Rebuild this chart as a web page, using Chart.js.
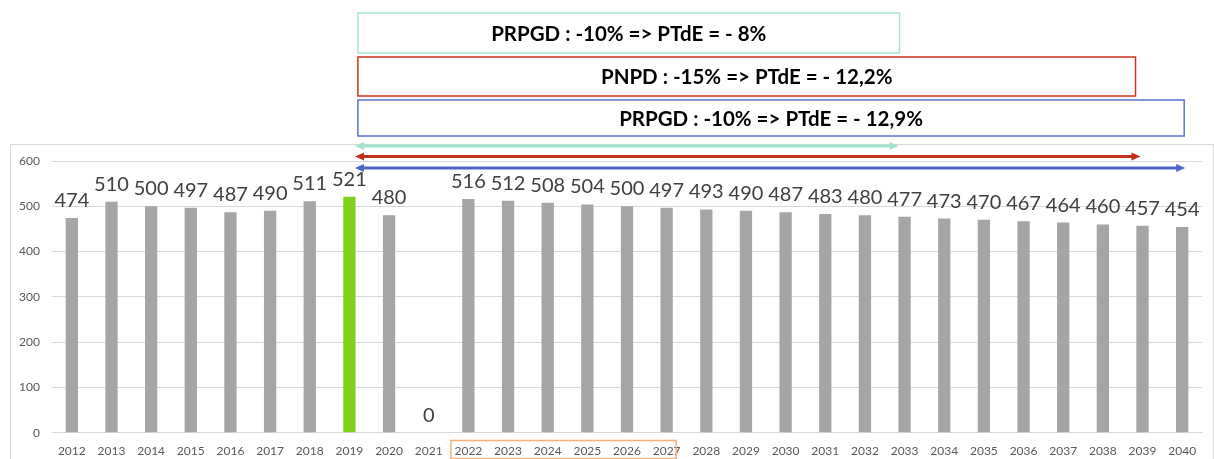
<!DOCTYPE html>
<html><head><meta charset="utf-8">
<script src="https://cdn.jsdelivr.net/npm/chart.js@4/dist/chart.umd.min.js"></script>
<style>html,body{margin:0;padding:0;background:#fff}#wrap{width:1214px;height:459px;position:relative}</style>
</head><body><div id="wrap"><canvas id="c" width="1214" height="459"></canvas></div>
<script>
const years = ['2012','2013','2014','2015','2016','2017','2018','2019','2020','2021','2022','2023','2024','2025','2026','2027','2028','2029','2030','2031','2032','2033','2034','2035','2036','2037','2038','2039','2040'];
const values = [474,510,500,497,487,490,511,521,480,0,516,512,508,504,500,497,493,490,487,483,480,477,473,470,467,464,460,457,454];
const highlightYear = '2019';
const yTicks = [0,100,200,300,400,500,600];
// annotations: label, start category, end category, colour of box, colour of arrow
const spanLabels = ['PRPGD : -10% => PTdE = - 8%','PNPD : -15% => PTdE = - 12,2%','PRPGD : -10% => PTdE = - 12,9%'];
const spanStart = ['2019','2019','2019'];
const spanEnd = ['2033','2039','2040'];
const boxColors = ['#a9e5d6','#d2321c','#5873cc'];
const arrowColors = ['#a0e2cf','#c4301c','#4c66c9'];
const markedYears = ['2022','2027'];

const barColors = years.map(y => y === highlightYear ? '#7ed11c' : '#a5a5a5');

const BOX_END_OFF = [-5,-7,2];
const ARROW_END_OFF = [-6,-2,3];
const BOX_Y = [[13,53],[57,96],[100,136]];
const ARROW_Y = [146,156.5,168];

function arrow(ctx, x1, x2, y, color){
  ctx.save();
  ctx.strokeStyle = color; ctx.fillStyle = color; ctx.lineWidth = 3;
  const h = 9, w = 4;
  ctx.beginPath(); ctx.moveTo(x1 + h - 1, y); ctx.lineTo(x2 - h + 1, y); ctx.stroke();
  ctx.beginPath(); ctx.moveTo(x1, y); ctx.lineTo(x1 + h, y - w); ctx.lineTo(x1 + h, y + w); ctx.closePath(); ctx.fill();
  ctx.beginPath(); ctx.moveTo(x2, y); ctx.lineTo(x2 - h, y - w); ctx.lineTo(x2 - h, y + w); ctx.closePath(); ctx.fill();
  ctx.restore();
}

const overlay = {
  id: 'overlay',
  beforeDraw(chart){
    const ctx = chart.ctx;
    ctx.save();
    ctx.strokeStyle = '#d9d9d9'; ctx.lineWidth = 1;
    ctx.strokeRect(10.5, 144.5, 1203, 330);
    ctx.restore();
  },
  afterDatasetsDraw(chart){
    const ctx = chart.ctx;
    const xs = chart.scales.x;
    const meta = chart.getDatasetMeta(0);
    ctx.save();
    ctx.font = '20px Lato';
    ctx.fillStyle = '#404040';
    ctx.textAlign = 'center';
    ctx.textBaseline = 'alphabetic';
    meta.data.forEach((bar, i) => {
      ctx.fillText(String(values[i]), bar.x, bar.y - 11);
    });
    ctx.restore();
    spanLabels.forEach((lab, i) => {
      const s = xs.getPixelForValue(years.indexOf(spanStart[i]));
      const e = xs.getPixelForValue(years.indexOf(spanEnd[i]));
      const bx1 = s + 8.5, bx2 = e + BOX_END_OFF[i];
      ctx.save();
      ctx.strokeStyle = boxColors[i]; ctx.lineWidth = 1.5;
      ctx.strokeRect(bx1, BOX_Y[i][0], bx2 - bx1, BOX_Y[i][1] - BOX_Y[i][0]);
      ctx.font = 'bold 20.5px Lato';
      ctx.fillStyle = '#000';
      ctx.textAlign = 'center'; ctx.textBaseline = 'middle';
      ctx.fillText(lab, (bx1 + bx2) / 2, (BOX_Y[i][0] + BOX_Y[i][1]) / 2 + 1);
      ctx.restore();
      arrow(ctx, s + 5.5, e + ARROW_END_OFF[i], ARROW_Y[i], arrowColors[i]);
    });
    const m1 = xs.getPixelForValue(years.indexOf(markedYears[0]));
    const m2 = xs.getPixelForValue(years.indexOf(markedYears[1]));
    ctx.save();
    ctx.strokeStyle = '#f6b07c'; ctx.lineWidth = 1.5;
    ctx.strokeRect(m1 - 17.5, 440.5, (m2 + 9.5) - (m1 - 17.5), 18);
    ctx.restore();
  }
};

new Chart(document.getElementById('c'), {
  type: 'bar',
  data: { labels: years, datasets: [{ data: values, backgroundColor: barColors, barPercentage: 0.31, categoryPercentage: 1 }] },
  options: {
    responsive: false, animation: false, devicePixelRatio: 1,
    layout: { padding: { top: 161, right: 12, left: 0, bottom: 0 } },
    plugins: { legend: { display: false }, tooltip: { enabled: false } },
    scales: {
      x: {
        grid: { display: false, drawTicks: false },
        border: { display: true, color: '#d9d9d9' },
        ticks: { color: '#595959', font: { family: 'Lato', size: 12 }, padding: 11, maxRotation: 0, autoSkip: false },
        afterFit(s){ s.height = 26.3; }
      },
      y: {
        min: 0, max: 600,
        afterBuildTicks(s){ s.ticks = yTicks.map(v => ({ value: v })); },
        grid: { color: '#d9d9d9', drawTicks: false },
        border: { display: false },
        ticks: { color: '#595959', font: { family: 'Lato', size: 12 }, padding: 12 },
        afterFit(s){ s.width = 52; }
      }
    }
  },
  plugins: [overlay]
});
</script></body></html>
